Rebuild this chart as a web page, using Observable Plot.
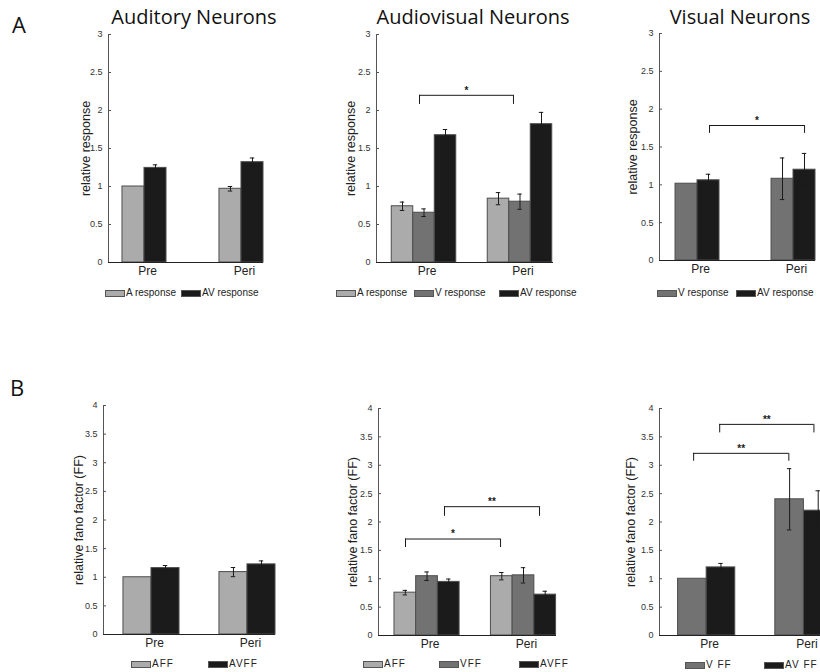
<!DOCTYPE html>
<html><head><meta charset="utf-8">
<script src="https://cdn.jsdelivr.net/npm/d3@7"></script>
<script src="https://cdn.jsdelivr.net/npm/@observablehq/plot@0.6"></script>
<style>
body{margin:0;background:#fff;}
#root{position:relative;width:820px;height:672px;overflow:hidden;background:#fff;font-family:"Liberation Sans",Arial,sans-serif;}
.panel{position:absolute;}
.panel svg{max-width:none !important;}
.title{position:absolute;font-family:"Open Sans",sans-serif;font-size:20px;line-height:20px;color:#111;white-space:nowrap;transform:translateX(-50%);}
.tag{position:absolute;font-family:"Open Sans",sans-serif;font-size:22px;line-height:22px;color:#111;}
.leg{position:absolute;height:10px;font-size:10px;line-height:10px;color:#222;white-space:nowrap;display:flex;align-items:center;}
.sw{display:inline-block;width:18px;height:5px;border:1px solid #555;margin-right:1px;}
</style></head><body><div id="root"></div>
<script>
// ---------- data ----------
const groups = ["Pre", "Peri"];
const yTicksA = [0, 0.5, 1, 1.5, 2, 2.5, 3];
const yTicksB = [0, 0.5, 1, 1.5, 2, 2.5, 3, 3.5, 4];

// A: relative response
const audA = [1.00, 0.97],  audAErr = [0, 0.03];
const audAV = [1.245, 1.32], audAVErr = [0.04, 0.055];

const avA = [0.74, 0.84],   avAErr = [0.055, 0.08];
const avV = [0.655, 0.80],  avVErr = [0.05, 0.10];
const avAV = [1.675, 1.82], avAVErr = [0.075, 0.155];

const visV = [1.015, 1.08], visVErr = [0, 0.275];
const visAV = [1.06, 1.20], visAVErr = [0.08, 0.215];

// B: relative fano factor
const ffAudA = [1.00, 1.09],   ffAudAErr = [0, 0.08];
const ffAudAV = [1.16, 1.225], ffAudAVErr = [0.045, 0.06];

const ffAvA = [0.755, 1.045], ffAvAErr = [0.04, 0.065];
const ffAvV = [1.045, 1.06],  ffAvVErr = [0.075, 0.135];
const ffAvAV = [0.945, 0.72], ffAvAVErr = [0.05, 0.06];

const ffVisV = [1.00, 2.40],  ffVisVErr = [0, 0.54];
const ffVisAV = [1.20, 2.20], ffVisAVErr = [0.07, 0.35];

// significance brackets (x in group units, y in data units)
const brAV = [{x1: 0.953, x2: 1.932, y: 2.2, y0: 2.08, label: "*"}];
const brVis = [{x1: 1.125, x2: 2.115, y: 1.784, y0: 1.68, label: "*"}];
const brFfAV = [
  {x1: 0.777, x2: 1.762, y: 1.70, y0: 1.55, label: "*"},
  {x1: 1.181, x2: 2.166, y: 2.27, y0: 2.10, label: "**"}
];
const brFfVis = [
  {x1: 0.866, x2: 1.845, y: 3.21, y0: 3.07, label: "**"},
  {x1: 1.134, x2: 2.103, y: 3.72, y0: 3.57, label: "**"}
];

// ---------- styles ----------
const colA = "#ababab", colV = "#727272", colAV = "#1b1b1b";

const panels = [
  {title: "Auditory Neurons", titleX: 194, ylabel: "relative response", yMax: 3, yTicks: yTicksA,
   series: [{name: "A response", v: audA, e: audAErr, fill: colA}, {name: "AV response", v: audAV, e: audAVErr, fill: colAV}],
   brackets: [], L: {axisX: 108, right: 263, top: 34, bottom: 262, lo: 0.629, hi: 2.227, bw: 0.227, yl: 23},
   leg: {y: 293, xs: [105, 181], spacing: 0}},
  {title: "Audiovisual Neurons", titleX: 473, ylabel: "relative response", yMax: 3, yTicks: yTicksA,
   series: [{name: "A response", v: avA, e: avAErr, fill: colA}, {name: "V response", v: avV, e: avVErr, fill: colV}, {name: "AV response", v: avAV, e: avAVErr, fill: colAV}],
   brackets: brAV, L: {axisX: 376, right: 553, top: 34, bottom: 262, lo: 0.505, hi: 2.349, bw: 0.224, yl: 26},
   leg: {y: 293, xs: [336, 414, 499], spacing: 0}},
  {title: "Visual Neurons", titleX: 740, ylabel: "relative response", yMax: 3, yTicks: yTicksA,
   series: [{name: "V response", v: visV, e: visVErr, fill: colV}, {name: "AV response", v: visAV, e: visAVErr, fill: colAV}],
   brackets: brVis, L: {axisX: 659, right: 815, top: 33, bottom: 260, lo: 0.604, hi: 2.229, bw: 0.229, yl: 27},
   leg: {y: 293, xs: [657, 736], spacing: 0}},
  {ylabel: "relative fano factor (FF)", yMax: 4, yTicks: yTicksB,
   series: [{name: "AFF", v: ffAudA, e: ffAudAErr, fill: colA}, {name: "AVFF", v: ffAudAV, e: ffAudAVErr, fill: colAV}],
   brackets: [], L: {axisX: 103, right: 275, top: 405, bottom: 634, lo: 0.5, hi: 2.292, bw: 0.292, yl: 25},
   leg: {y: 664, xs: [131, 208], spacing: 1}},
  {ylabel: "relative fano factor (FF)", yMax: 4, yTicks: yTicksB,
   series: [{name: "AFF", v: ffAvA, e: ffAvAErr, fill: colA}, {name: "VFF", v: ffAvV, e: ffAvVErr, fill: colV}, {name: "AVFF", v: ffAvAV, e: ffAvAVErr, fill: colAV}],
   brackets: brFfAV, L: {axisX: 378, right: 556, top: 408, bottom: 635, lo: 0.497, hi: 2.342, bw: 0.225, yl: 26},
   leg: {y: 664, xs: [363, 439, 519], spacing: 1}},
  {ylabel: "relative fano factor (FF)", yMax: 4, yTicks: yTicksB,
   series: [{name: "V FF", v: ffVisV, e: ffVisVErr, fill: colV}, {name: "AV FF", v: ffVisAV, e: ffVisAVErr, fill: colAV}],
   brackets: brFfVis, L: {axisX: 659, right: 832, top: 408, bottom: 635, lo: 0.515, hi: 2.294, bw: 0.294, yl: 29},
   leg: {y: 665, xs: [685, 764], spacing: 1}}
];

const root = document.getElementById("root");

function render(p) {
  const mL = 60, mR = 2, mT = 12, mB = 24;
  const L = p.L;
  const width = mL + (L.right - L.axisX) + mR;
  const height = mT + (L.bottom - L.top) + mB;
  const n = p.series.length;
  const bars = [];
  p.series.forEach((s, i) => groups.forEach((g, j) => {
    const x1 = (j + 1) + (i - n / 2) * L.bw;
    bars.push({x1, x2: x1 + L.bw, xc: x1 + L.bw / 2, v: s.v[j], e: s.e[j], fill: s.fill});
  }));
  const errs = bars.filter(d => d.e > 0);
  const unit = (L.hi - L.lo) / (L.right - L.axisX); // data units per pixel
  const cap = 2.2 * unit;
  const ink = "#1a1a1a";
  const chart = Plot.plot({
    width, height, marginLeft: mL, marginRight: mR, marginTop: mT, marginBottom: mB,
    style: {fontFamily: "'Liberation Sans', Arial, sans-serif", fontSize: "10px", color: "#222", background: "transparent", overflow: "visible", maxWidth: "none"},
    x: {domain: [L.lo, L.hi]},
    y: {domain: [0, p.yMax]},
    color: {type: "identity"},
    marks: [
      Plot.rectY(bars, {x1: "x1", x2: "x2", y1: 0, y2: "v", fill: "fill", stroke: "#4d4d4d", strokeWidth: 1}),
      Plot.ruleX(errs, {x: "xc", y1: d => d.v - d.e, y2: d => d.v + d.e, stroke: ink}),
      Plot.ruleY(errs, {y: d => d.v + d.e, x1: d => d.xc - cap, x2: d => d.xc + cap, stroke: ink}),
      Plot.ruleY(errs, {y: d => d.v - d.e, x1: d => d.xc - cap, x2: d => d.xc + cap, stroke: ink}),
      Plot.ruleX([L.lo], {stroke: "#555"}),
      Plot.ruleY(p.yTicks, {y: d => d, x1: L.lo, x2: L.lo + 3 * unit, stroke: "#555"}),
      Plot.ruleY([0], {stroke: "#222"}),
      Plot.axisY({ticks: p.yTicks, tickFormat: d => String(d), tickSize: 0, tickPadding: 6, label: null, fill: "#333", fontSize: 9}),
      Plot.axisX({ticks: [1, 2], tickFormat: d => groups[d - 1], tickSize: 0, tickPadding: 4, fontSize: 12, label: null, dx: 3, fill: "#222"}),
      Plot.text([p.ylabel], {frameAnchor: "left", textAnchor: "middle", lineAnchor: "middle", rotate: -90, dx: -L.yl, fontSize: 12.5, fill: "#222"}),
      Plot.ruleY(p.brackets, {y: "y", x1: "x1", x2: "x2", stroke: ink}),
      Plot.ruleX(p.brackets, {x: "x1", y1: "y0", y2: "y", stroke: ink}),
      Plot.ruleX(p.brackets, {x: "x2", y1: "y0", y2: "y", stroke: ink}),
      Plot.text(p.brackets, {x: d => (d.x1 + d.x2) / 2, y: "y", text: "label", dy: -5, fontSize: 10, fontWeight: "bold", fill: ink})
    ]
  });
  const wrap = document.createElement("div");
  wrap.className = "panel";
  wrap.style.left = (L.axisX - mL) + "px";
  wrap.style.top = (L.top - mT) + "px";
  wrap.style.width = width + "px";
  wrap.style.height = height + "px";
  wrap.appendChild(chart);
  root.appendChild(wrap);

  if (p.title) {
    const t = document.createElement("div");
    t.className = "title";
    t.textContent = p.title;
    t.style.left = p.titleX + "px";
    t.style.top = "7px";
    root.appendChild(t);
  }
  p.series.forEach((s, i) => {
    const it = document.createElement("div");
    it.className = "leg";
    it.style.left = p.leg.xs[i] + "px";
    it.style.top = (p.leg.y - 5) + "px";
    it.style.letterSpacing = p.leg.spacing + "px";
    const sw = document.createElement("span");
    sw.className = "sw";
    sw.style.background = s.fill;
    it.appendChild(sw);
    it.appendChild(document.createTextNode(s.name));
    root.appendChild(it);
  });
}

panels.forEach(render);

[["A", 12, 13], ["B", 10, 376]].forEach(([txt, x, y]) => {
  const d = document.createElement("div");
  d.className = "tag";
  d.textContent = txt;
  d.style.left = x + "px";
  d.style.top = y + "px";
  root.appendChild(d);
});
</script>
</body></html>
